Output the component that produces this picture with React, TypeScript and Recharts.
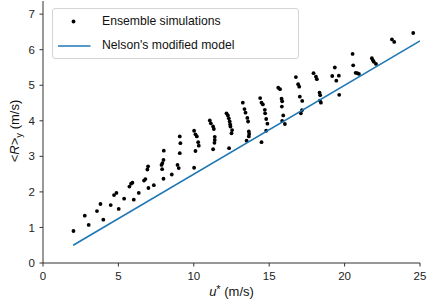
import React from 'react';
import { ComposedChart, Scatter, XAxis, YAxis, Label } from 'recharts';

// Ensemble simulations: u* (m/s) and <R>_y (m/s)
const simU = [
  2.02, 2.77, 3.03, 3.58, 3.81, 4.0, 4.49, 4.71, 4.87, 5.02,
  5.38, 5.73, 5.84, 5.93, 6.02, 6.35, 6.7, 6.79, 6.99, 6.92,
  6.97, 7.35, 7.86, 7.9, 7.92, 7.99, 8.01, 7.99, 8.54, 8.92,
  9.0, 9.07, 9.11, 9.07, 10.02, 10.02, 10.11, 10.2, 10.29, 10.33,
  10.11, 11.06, 11.13, 11.28, 11.33, 11.39, 11.39, 11.37, 11.28, 12.17,
  12.26, 12.32, 12.38, 12.41, 12.43, 12.54, 12.5, 12.34, 13.25, 13.36,
  13.43, 13.55, 13.6, 13.65, 13.67, 13.65, 13.5, 14.4, 14.49, 14.58,
  14.71, 14.73, 14.8, 14.88, 14.8, 14.49, 15.6, 15.72, 15.82, 15.86,
  15.84, 15.93, 15.86, 16.04, 16.77, 16.92, 16.99, 17.03, 17.19, 17.17,
  17.1, 17.94, 18.1, 18.16, 18.34, 18.38, 18.43, 18.36, 19.18, 19.35,
  19.62, 19.45, 19.64, 20.53, 20.57, 20.73, 20.84, 20.95, 21.81, 21.88,
  21.94, 22.08, 23.14, 23.29, 24.55,
];
const simR = [
  0.9, 1.33, 1.07, 1.46, 1.66, 1.22, 1.63, 1.91, 1.97, 1.52,
  1.81, 2.15, 2.23, 2.26, 1.78, 1.97, 2.32, 2.36, 2.11, 2.63,
  2.72, 2.19, 2.76, 2.64, 2.81, 2.9, 3.16, 2.37, 2.49, 2.76,
  2.67, 3.09, 3.37, 3.56, 2.68, 3.72, 3.62, 3.56, 3.4, 3.3,
  3.15, 4.01, 3.93, 3.84, 3.77, 3.55, 3.46, 3.38, 3.2, 4.21,
  4.15, 4.07, 3.98, 3.9, 3.84, 3.74, 3.65, 3.23, 4.51, 4.33,
  4.23, 4.08, 3.98, 3.7, 3.63, 3.56, 3.44, 4.64, 4.51, 4.46,
  4.31, 4.21, 4.05, 3.92, 3.72, 3.4, 4.93, 4.89, 4.62, 4.55,
  4.4, 4.15, 4.0, 3.91, 5.23, 5.03, 4.96, 4.68, 4.56, 4.3,
  4.21, 5.34, 5.24, 5.17, 4.79, 4.72, 4.51, 4.57, 5.26, 5.5,
  5.27, 5.13, 4.73, 5.88, 5.56, 5.35, 5.34, 5.32, 5.76, 5.7,
  5.66, 5.6, 6.29, 6.22, 6.47,
];

// Nelson's modified model
const modelU = [2, 25];
const modelR = [0.5, 6.25];

const xTicks = [0, 5, 10, 15, 20, 25];
const yTicks = [0, 1, 2, 3, 4, 5, 6, 7];

const simData = simU.map((x, i) => ({ x, y: simR[i] }));
const modelData = modelU.map((x, i) => ({ x, y: modelR[i] }));

const FONT = '"Liberation Sans", Arial, Helvetica, sans-serif';
const AXIS = '#333';
const BLUE = '#1f77b4';

const Dot = (props: any) => (
  <circle cx={props.cx} cy={props.cy} r={1.9} fill="#000" />
);
const NoShape = () => <g />;

const XTitle = (props: any) => {
  const vb = props.viewBox || { x: 43, y: 263, width: 377, height: 44 };
  const cx = vb.x + vb.width / 2;
  return (
    <text x={cx} y={vb.y + 33} textAnchor="middle" fontFamily={FONT} fontSize={13} fill="#111">
      <tspan fontStyle="italic">u</tspan>
      <tspan dy={-3} fontSize={11}>*</tspan>
      <tspan dy={3}> (m/s)</tspan>
    </text>
  );
};

const YTitle = (props: any) => {
  const vb = props.viewBox || { x: 0, y: 1, width: 43, height: 262 };
  const cy = vb.y + vb.height / 2 - 1;
  const cx = 19;
  return (
    <text
      x={cx}
      y={cy}
      textAnchor="middle"
      fontFamily={FONT}
      fontSize={13}
      fill="#111"
      transform={`rotate(-90, ${cx}, ${cy})`}
    >
      <tspan>&lt;</tspan>
      <tspan fontStyle="italic">R</tspan>
      <tspan>&gt;</tspan>
      <tspan dy={3} fontSize={9.5}>y</tspan>
      <tspan dy={-3}> (m/s)</tspan>
    </text>
  );
};

export default function App() {
  const tickStyle = { fill: '#222', fontSize: 11.5, fontFamily: FONT };
  return (
    <div style={{ position: 'absolute', left: 0, top: 0, width: 427, height: 307, background: '#fff' }}>
      <ComposedChart
        width={427}
        height={307}
        margin={{ top: 1, right: 7, bottom: 0, left: 0 }}
      >
        <XAxis
          xAxisId="b"
          type="number"
          dataKey="x"
          domain={[0, 25]}
          ticks={xTicks}
          interval={0}
          allowDataOverflow
          height={44}
          tickSize={3.5}
          tickMargin={5.5}
          stroke={AXIS}
          tick={tickStyle}
        >
          <Label content={XTitle} />
        </XAxis>
        <XAxis
          xAxisId="t"
          orientation="top"
          type="number"
          dataKey="x"
          domain={[0, 25]}
          height={0}
          tick={false}
          tickLine={false}
          stroke={AXIS}
        />
        <YAxis
          yAxisId="l"
          type="number"
          dataKey="y"
          domain={[0, 7.37]}
          ticks={yTicks}
          interval={0}
          allowDataOverflow
          width={43}
          tickSize={3.5}
          tickMargin={4.5}
          stroke={AXIS}
          tick={tickStyle}
        >
          <Label content={YTitle} />
        </YAxis>
        <YAxis
          yAxisId="r"
          orientation="right"
          type="number"
          dataKey="y"
          domain={[0, 7.37]}
          width={0}
          tick={false}
          tickLine={false}
          stroke={AXIS}
        />
        <Scatter
          name="Ensemble simulations"
          data={simData}
          xAxisId="b"
          yAxisId="l"
          fill="#000"
          shape={Dot}
          isAnimationActive={false}
        />
        <Scatter
          name="Nelson's modified model"
          data={modelData}
          xAxisId="b"
          yAxisId="l"
          fill={BLUE}
          line={{ stroke: BLUE, strokeWidth: 1.6 }}
          shape={NoShape}
          isAnimationActive={false}
        />
      </ComposedChart>
      <div
        style={{
          position: 'absolute',
          left: 52,
          top: 8,
          width: 245,
          height: 49,
          border: '1px solid #d4d4d4',
          borderRadius: 3,
          background: 'rgba(255,255,255,0.8)',
          fontFamily: FONT,
          fontSize: 12.2,
          color: '#111',
        }}
      >
        <svg width={245} height={49} style={{ position: 'absolute', left: 0, top: 0 }}>
          <circle cx={20.5} cy={12.5} r={1.9} fill="#000" />
          <line x1={5} y1={37} x2={37.5} y2={37} stroke={BLUE} strokeWidth={1.6} />
        </svg>
        <span style={{ position: 'absolute', left: 49, top: 5, lineHeight: '15px', whiteSpace: 'nowrap' }}>
          Ensemble simulations
        </span>
        <span style={{ position: 'absolute', left: 49, top: 29, lineHeight: '15px', whiteSpace: 'nowrap' }}>
          Nelson's modified model
        </span>
      </div>
    </div>
  );
}
